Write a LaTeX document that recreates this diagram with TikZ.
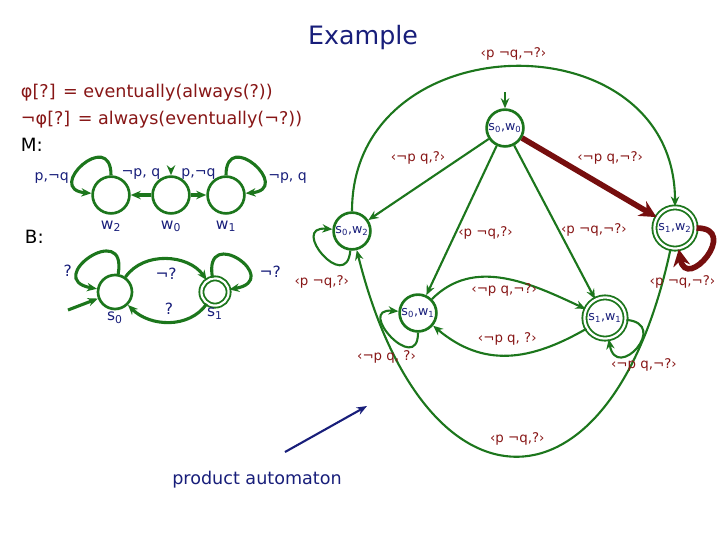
\documentclass[tikz,border=0pt]{standalone}
\usepackage{fontspec}
\setmainfont{DejaVu Sans}
\usetikzlibrary{arrows.meta, positioning}

\definecolor{autgreen}{RGB}{28,118,28}
\definecolor{lblred}{RGB}{135,22,22}
\definecolor{navy}{RGB}{24,30,122}
\definecolor{runred}{RGB}{118,14,14}

\newcommand{\fsz}[1]{\fontsize{#1}{#1}\selectfont}
\newcommand{\pst}[2]{s\textsubscript{#1},w\textsubscript{#2}}

\begin{document}
\begin{tikzpicture}[
    x=0.025cm, y=-0.025cm,
    state/.style={circle, draw=autgreen, line width=1.9pt, minimum size=0.92cm, inner sep=0pt, text=navy, font=\fsz{9}},
    finalstate/.style={state, double=white, double distance=1.6pt, line width=1.3pt, minimum size=1.03cm},
    arrow/.style={-{Stealth[length=2.5mm, width=2.1mm]}, draw=autgreen, line width=1.5pt},
    thickarrow/.style={arrow, line width=2.2pt},
    runarrow/.style={-{Stealth[length=4.2mm, width=4.2mm]}, draw=runred, line width=4pt},
    trans/.style={text=lblred, font=\fsz{9.5}, inner sep=1pt},
    letter/.style={text=navy, font=\fsz{10}, inner sep=1pt},
    statename/.style={text=navy, font=\fsz{11}, inner sep=1pt}
]

% page frame
\useasboundingbox (0,0) rectangle (720,540);

% === TEXT ===

% Title
\node[text=navy, font=\fsz{18}] (title) at (363,38) {Example};

% Formula and its negation
\node[anchor=west, text=lblred, font=\fsz{12.5}] (phi) at (16,93) {φ[?] = eventually(always(?))};
\node[anchor=west, text=lblred, font=\fsz{12.5}] (negphi) at (16,120) {¬φ[?] = always(eventually(¬?))};

% Automaton names
\node[anchor=west, font=\fsz{13}] (Mname) at (16,145) {M:};
\node[anchor=west, font=\fsz{13}] (Bname) at (20,237) {B:};

% === MODEL M ===

\node[state] (w2) at (111,195) {};
\node[state] (w0) at (171,195) {};
\node[state] (w1) at (226,195) {};

\node[statename, below=3pt of w2] (w2name) {w\textsubscript{2}};
\node[statename, below=3pt of w0] (w0name) {w\textsubscript{0}};
\node[statename, below=3pt of w1] (w1name) {w\textsubscript{1}};

% initial state w0
\coordinate (w0in) at (171,168);
\draw[arrow] (w0in) -- (w0);

\draw[thickarrow] (w0) -- node[letter, above=9pt] {¬p, q} (w2);
\draw[thickarrow] (w0) -- node[letter, above=9pt] {p,¬q} (w1);
\draw[thickarrow] (w2) to[out=90, in=175, min distance=12mm] node[letter, pos=0.7, left=2pt] {p,¬q} (w2);
\draw[thickarrow] (w1) to[out=90, in=5, min distance=12mm] node[letter, pos=0.7, right=2pt] {¬p, q} (w1);

% === BUCHI AUTOMATON B ===

\node[state, minimum size=0.85cm] (s0) at (115,292) {};
\node[finalstate, minimum size=0.68cm] (s1) at (215,292) {};

\node[statename, below=0pt of s0] (s0name) {s\textsubscript{0}};
\node[statename, below=0pt of s1] (s1name) {s\textsubscript{1}};

\coordinate (s0in) at (68,310);
\draw[thickarrow] (s0in) -- (s0);

\draw[thickarrow] (s0) to[out=80, in=170, min distance=14mm] node[letter, font=\fsz{11}, pos=0.7, left=3pt] {?} (s0);
\draw[thickarrow] (s1) to[out=100, in=10, min distance=14mm] node[letter, font=\fsz{11}, pos=0.7, right=6pt] {¬?} (s1);
\draw[thickarrow] (s0) to[out=55, in=125] node[letter, font=\fsz{11}, below=4pt] {¬?} (s1);
\draw[thickarrow] (s1) to[out=-125, in=-45] node[letter, font=\fsz{11}, above=3pt] {?} (s0);

% === PRODUCT AUTOMATON ===

\node[state] (s00) at (505,128) {\pst{0}{0}};
\node[state] (s02) at (352,231) {\pst{0}{2}};
\node[state] (s01) at (418,313) {\pst{0}{1}};
\node[finalstate] (s11) at (605,318) {\pst{1}{1}};
\node[finalstate] (s12) at (675,228) {\pst{1}{2}};

% initial state
\coordinate (s00in) at (505,92);
\draw[arrow] (s00in) -- (s00);

% out of s0,w0
\draw[arrow] (s00) -- node[trans, pos=0.34, above left] {‹¬p q,?›} (s02);
\draw[arrow] (s00) -- node[trans, pos=0.58, right] {‹p ¬q,?›} (s01);
\draw[arrow] (s00) -- node[trans, pos=0.55, right] {‹p ¬q,¬?›} (s11);
\draw[runarrow] (s00) -- node[trans, pos=0.38, above right] {‹¬p q,¬?›} (s12);

% big arcs between s0,w2 and s1,w2
\draw[arrow] (s02) to[out=90, in=90, looseness=1.5] node[trans, above=3pt] {‹p ¬q,¬?›} (s12);
\draw[arrow] (s12) to[out=-102, in=-76, looseness=2.3] node[trans, above=6pt] {‹p ¬q,?›} (s02);

% s0,w1 <-> s1,w1
\draw[arrow] (s01) to[out=45, in=155] node[trans, below=2pt] {‹¬p q,¬?›} (s11);
\draw[arrow] (s11) to[out=-150, in=-40, looseness=1.09] node[trans, above=5pt] {‹¬p q, ?›} (s01);

% self loops
\draw[arrow] (s02) to[out=-95, in=175, min distance=11mm] node[trans, pos=0.35, below=7pt, xshift=-8pt] {‹p ¬q,?›} (s02);
\draw[arrow] (s01) to[out=-90, in=175, min distance=11mm] node[trans, pos=0.35, below=2pt, xshift=-11pt] {‹¬p q, ?›} (s01);
\draw[arrow] (s11) to[out=-5, in=-80, min distance=11mm] node[trans, pos=0.5, below=6pt, xshift=5pt] {‹¬p q,¬?›} (s11);
\draw[runarrow] (s12) to[out=0, in=-80, min distance=11mm] node[trans, pos=0.75, below=5pt, xshift=-6pt] {‹p ¬q,¬?›} (s12);

% === POINTER ===
\coordinate (ptail) at (285,452);
\coordinate (phead) at (367,406);
\draw[-{Stealth[length=2.6mm, width=2mm]}, navy, line width=1.5pt] (ptail) -- (phead);
\node[text=navy, font=\fsz{12.5}] (prodname) at (257,480) {product automaton};

\end{tikzpicture}
\end{document}
